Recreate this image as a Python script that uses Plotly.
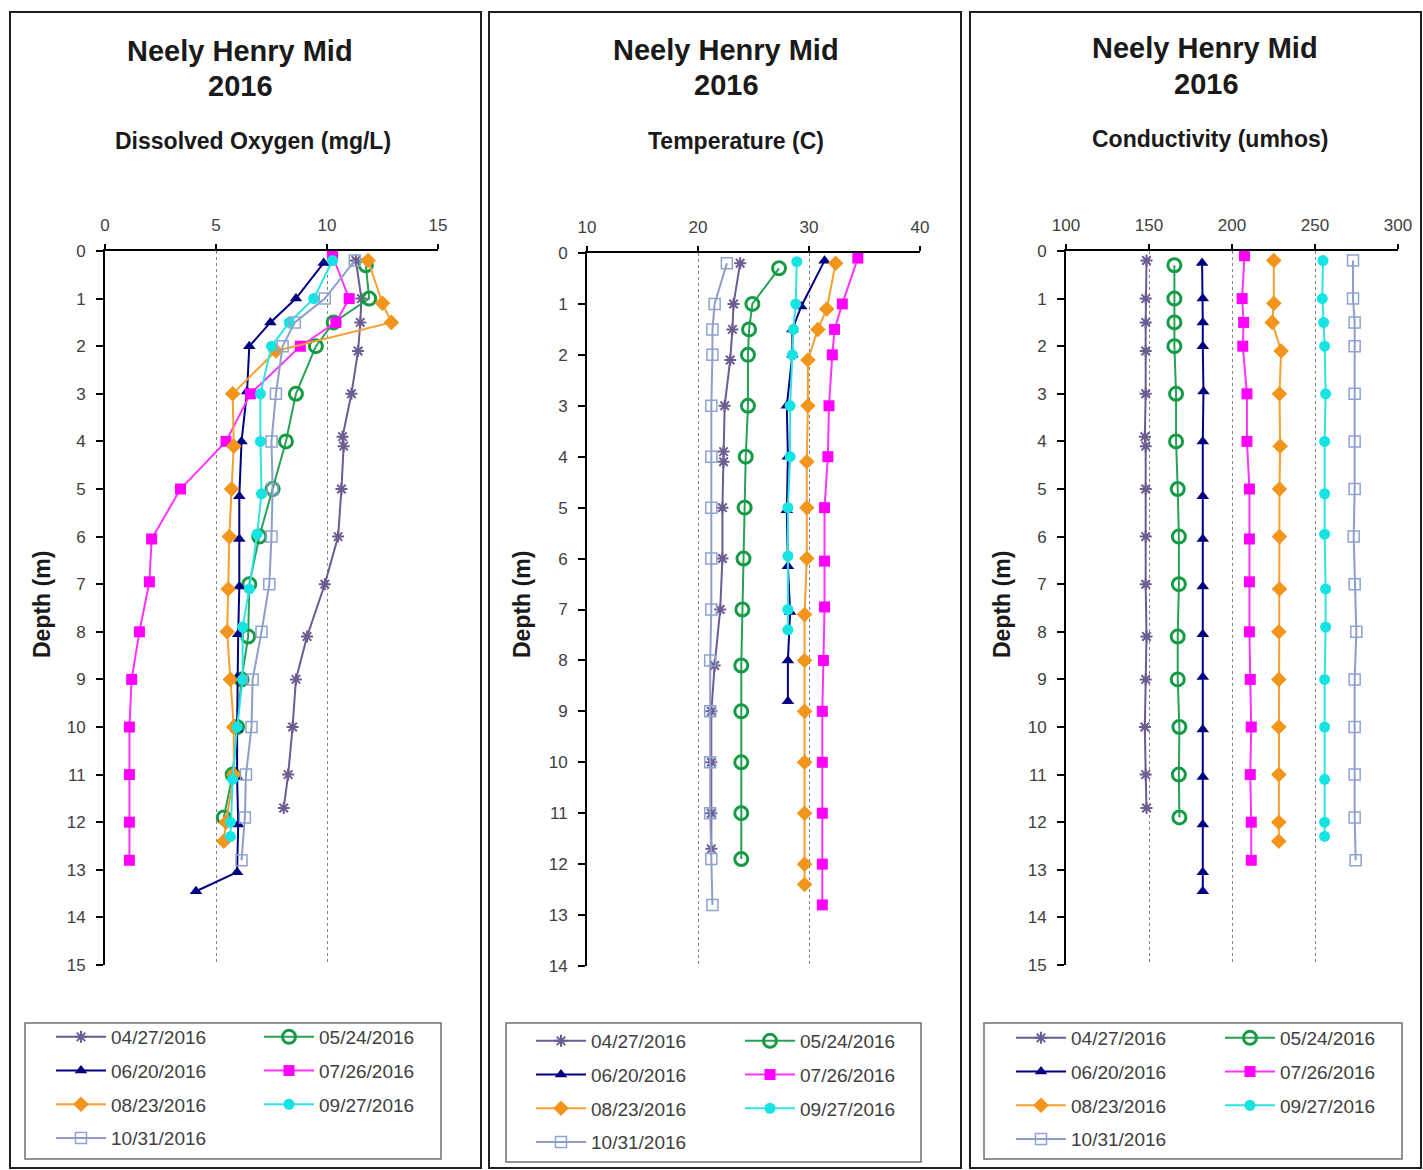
import plotly.graph_objects as go

W, H = 1423, 1170

# ---------------- data ----------------
dates = ["04/27/2016", "05/24/2016", "06/20/2016", "07/26/2016",
         "08/23/2016", "09/27/2016", "10/31/2016"]

depth_0427 = [0.2, 1.0, 1.5, 2.1, 3.0, 3.9, 4.1, 5.0, 6.0, 7.0, 8.1, 9.0, 10.0, 11.0, 11.7]
depth_0524 = [0.3, 1.0, 1.5, 2.0, 3.0, 4.0, 5.0, 6.0, 7.0, 8.1, 9.0, 10.0, 11.0, 11.9]
depth_0620 = [0.25, 1.0, 1.5, 2.0, 2.95, 4.0, 5.15, 6.05, 7.05, 8.05, 8.95, 10.05, 11.05, 12.05, 13.05, 13.45]
depth_0620_temp = [0.15, 1.05, 1.5, 2.0, 3.0, 4.0, 5.05, 6.15, 7.05, 8.0, 8.8]
depth_0726 = [0.1, 1.0, 1.5, 2.0, 3.0, 4.0, 5.0, 6.05, 6.95, 8.0, 9.0, 10.0, 11.0, 12.0, 12.8]
depth_0823 = [0.2, 1.1, 1.5, 2.1, 3.0, 4.1, 5.0, 6.0, 7.1, 8.0, 9.0, 10.0, 11.0, 12.0, 12.4]
depth_0927 = [0.2, 1.0, 1.5, 2.0, 3.0, 4.0, 5.1, 5.95, 7.1, 7.9, 9.0, 10.0, 11.1, 12.0, 12.3]
depth_0927_temp = [0.17, 1.0, 1.5, 2.0, 3.0, 4.0, 5.0, 5.95, 7.0, 7.4]
depth_1031 = [0.2, 1.0, 1.5, 2.0, 3.0, 4.0, 5.0, 6.0, 7.0, 8.0, 9.0, 10.0, 11.0, 11.9, 12.8]

# Dissolved oxygen (mg/L)
do_0427 = [11.3, 11.55, 11.5, 11.4, 11.1, 10.7, 10.75, 10.65, 10.5, 9.9, 9.1, 8.6, 8.45, 8.25, 8.05]
do_0524 = [11.75, 11.9, 10.3, 9.5, 8.6, 8.15, 7.55, 6.95, 6.5, 6.45, 6.15, 5.95, 5.75, 5.35]
do_0620 = [9.85, 8.6, 7.45, 6.5, 6.4, 6.15, 6.05, 6.05, 6.05, 6.0, 5.97, 5.95, 5.95, 6.0, 5.95, 4.1]
do_0726 = [10.25, 11.0, 10.4, 8.8, 6.55, 5.45, 3.4, 2.1, 2.0, 1.55, 1.2, 1.1, 1.1, 1.1, 1.1]
do_0823 = [11.85, 12.5, 12.9, 7.7, 5.75, 5.8, 5.7, 5.6, 5.55, 5.5, 5.65, 5.8, 5.8, 5.45, 5.35]
do_0927 = [10.25, 9.4, 8.3, 7.5, 7.0, 7.0, 7.05, 6.85, 6.5, 6.2, 6.2, 5.95, 5.75, 5.65, 5.65]
do_1031 = [11.25, 9.9, 8.55, 8.0, 7.7, 7.5, 7.55, 7.5, 7.4, 7.05, 6.65, 6.6, 6.35, 6.3, 6.15]

# Temperature (C)
temp_0427 = [23.8, 23.2, 23.1, 22.9, 22.4, 22.3, 22.3, 22.2, 22.2, 22.0, 21.5, 21.2, 21.2, 21.2, 21.2]
temp_0524 = [27.3, 24.9, 24.6, 24.5, 24.5, 24.3, 24.2, 24.1, 24.0, 23.9, 23.9, 23.9, 23.9, 23.9]
temp_0620 = [31.4, 29.3, 28.5, 28.5, 28.0, 28.1, 28.0, 28.1, 28.3, 28.1, 28.1]
temp_0726 = [34.4, 33.0, 32.3, 32.1, 31.8, 31.7, 31.4, 31.4, 31.4, 31.3, 31.2, 31.2, 31.2, 31.2, 31.2]
temp_0823 = [32.4, 31.6, 30.8, 29.9, 29.9, 29.8, 29.8, 29.8, 29.6, 29.6, 29.6, 29.6, 29.6, 29.6, 29.6]
temp_0927 = [28.9, 28.8, 28.6, 28.5, 28.3, 28.3, 28.1, 28.1, 28.1, 28.1]
temp_1031 = [22.6, 21.5, 21.3, 21.3, 21.2, 21.2, 21.2, 21.2, 21.2, 21.1, 21.1, 21.1, 21.1, 21.2, 21.3]

# Conductivity (umhos)
cond_0427 = [148.5, 148, 148, 148, 148, 147.5, 148, 148, 148, 148, 148.5, 148, 147.5, 148, 148.5]
cond_0524 = [165.3, 165.3, 165.3, 165.3, 166.3, 166.3, 167.3, 168, 168, 167.3, 167.3, 168.3, 168, 168.3]
cond_0620 = [182, 182.4, 182.4, 182.4, 182.8, 182.4, 182.4, 182.4, 182.4, 182.4, 182.4, 182.4, 182.4, 182.4, 182.4, 182.4]
cond_0726 = [207.5, 206.1, 207, 206.5, 209, 209, 210.5, 210.5, 210.5, 210.5, 211, 211.6, 211, 211.6, 211.6]
cond_0823 = [225.2, 225.2, 224.2, 229.6, 228.6, 229, 228.6, 228.6, 228.6, 228.2, 228.2, 228.2, 228.2, 228.2, 228.2]
cond_0927 = [254.8, 254.4, 255.2, 255.8, 256.4, 255.8, 255.8, 255.8, 256.4, 256.4, 255.8, 255.8, 255.8, 255.8, 255.8]
cond_1031 = [272.9, 272.9, 273.9, 273.9, 273.9, 273.9, 273.9, 273.3, 273.9, 274.9, 273.9, 273.9, 273.9, 273.9, 274.5]

panel_titles = ["Dissolved Oxygen (mg/L)", "Temperature (C)", "Conductivity (umhos)"]
x_ticks = [[0, 5, 10, 15], [10, 20, 30, 40], [100, 150, 200, 250, 300]]
x_ranges = [[0, 15], [10, 40], [100, 300]]
depth_max = [15, 14, 15]

panel_data = [
    [(depth_0427, do_0427), (depth_0524, do_0524), (depth_0620, do_0620), (depth_0726, do_0726),
     (depth_0823, do_0823), (depth_0927, do_0927), (depth_1031, do_1031)],
    [(depth_0427, temp_0427), (depth_0524, temp_0524), (depth_0620_temp, temp_0620), (depth_0726, temp_0726),
     (depth_0823, temp_0823), (depth_0927_temp, temp_0927), (depth_1031, temp_1031)],
    [(depth_0427, cond_0427), (depth_0524, cond_0524), (depth_0620, cond_0620), (depth_0726, cond_0726),
     (depth_0823, cond_0823), (depth_0927, cond_0927), (depth_1031, cond_1031)],
]

# ---------------- styles ----------------
styles = {
    "04/27/2016": dict(line="#6c5c92", mcolor="#6c5c92", symbol="asterisk-open", size=10, mlw=2),
    "05/24/2016": dict(line="#26a257", mcolor="#169a45", symbol="circle-open", size=13, mlw=3),
    "06/20/2016": dict(line="#000080", mcolor="#000080", symbol="triangle-up", size=11, mlw=0),
    "07/26/2016": dict(line="#ff33ff", mcolor="#ff00ff", symbol="square", size=11, mlw=0),
    "08/23/2016": dict(line="#f7a030", mcolor="#f3951b", symbol="diamond", size=12, mlw=0),
    "09/27/2016": dict(line="#2ee3e3", mcolor="#17e3e3", symbol="circle", size=11, mlw=0),
    "10/31/2016": dict(line="#8d9ec9", mcolor="#8fa3cf", symbol="square-open", size=11, mlw=1.5),
}
col1 = ["04/27/2016", "06/20/2016", "08/23/2016", "10/31/2016"]

def px(v):
    return v / W

def py(v):
    return 1 - v / H

x_domains = [[105, 438], [587, 920], [1066, 1398]]
y_domains = [[251, 965], [253, 966], [251, 965]]

fig = go.Figure()

for p in range(3):
    ax = "" if p == 0 else str(p + 1)
    for k, d in enumerate(dates):
        depths, vals = panel_data[p][k]
        s = styles[d]
        leg_idx = 2 * p + (1 if d in col1 else 2)
        leg = "legend" if leg_idx == 1 else "legend%d" % leg_idx
        fig.add_trace(go.Scatter(
            x=vals, y=depths, name=d, mode="lines+markers",
            xaxis="x" + ax, yaxis="y" + ax,
            legend=leg, legendgroup="p%d_%d" % (p, k),
            line=dict(color=s["line"], width=2),
            marker=dict(color=s["mcolor"], symbol=s["symbol"], size=s["size"],
                        line=dict(color=s["mcolor"], width=s["mlw"])),
            cliponaxis=False,
        ))

layout = dict(
    width=W, height=H, margin=dict(l=0, r=0, t=0, b=0, pad=0, autoexpand=False),
    paper_bgcolor="white", plot_bgcolor="white",
    font=dict(family="Liberation Sans, Arial, sans-serif", color="#404040"),
    showlegend=True,
)

for p in range(3):
    ax = "" if p == 0 else str(p + 1)
    xd = x_domains[p]
    yd = y_domains[p]
    layout["xaxis" + ax] = dict(
        domain=[px(xd[0]), px(xd[1])], anchor="y" + ax, side="top",
        range=x_ranges[p], tickvals=x_ticks[p], ticks="outside", ticklen=5,
        tickcolor="black", tickwidth=1.5, showline=True, linecolor="black", linewidth=2,
        showgrid=True, gridcolor="#808080", griddash="dot", gridwidth=1,
        zeroline=False, tickfont=dict(size=17, color="#404040"),
        ticklabelstandoff=6, fixedrange=True, automargin=False,
    )
    layout["yaxis" + ax] = dict(
        domain=[py(yd[1]), py(yd[0])], anchor="x" + ax,
        range=[depth_max[p], 0], dtick=1, ticks="outside", ticklen=7, tickwidth=2,
        tickcolor="black", showline=True, linecolor="black", linewidth=2,
        showgrid=False, zeroline=False, tickfont=dict(size=17, color="#404040"),
        ticklabelstandoff=7, fixedrange=True, automargin=False,
    )

# legends
legend_rows = [1033, 1037, 1034]
legend_cols = [[59, 267], [539, 748], [1019, 1228]]
for p in range(3):
    for c in range(2):
        idx = 2 * p + c + 1
        key = "legend" if idx == 1 else "legend%d" % idx
        layout[key] = dict(
            x=px(legend_cols[p][c] - 8), y=py(legend_rows[p] - 15),
            xanchor="left", yanchor="top",
            bgcolor="rgba(0,0,0,0)", borderwidth=0,
            font=dict(size=19, color="#404040", family="Liberation Sans, Arial, sans-serif"),
            tracegroupgap=6, itemwidth=50, traceorder="grouped",
        )

# panel borders and legend boxes
shapes = []
panel_boxes = [[10, 12, 481, 1168], [489, 12, 961, 1168], [970, 12, 1421, 1168]]
for b in panel_boxes:
    shapes.append(dict(type="rect", xref="paper", yref="paper",
                       x0=px(b[0]), x1=px(b[2]), y0=py(b[3]), y1=py(b[1]),
                       line=dict(color="#202020", width=2)))
legend_boxes = [[25, 1023, 441, 1159], [506, 1023, 921, 1162], [984, 1023, 1402, 1159]]
for b in legend_boxes:
    shapes.append(dict(type="rect", xref="paper", yref="paper",
                       x0=px(b[0]), x1=px(b[2]), y0=py(b[3]), y1=py(b[1]),
                       line=dict(color="#707070", width=1.5)))
layout["shapes"] = shapes

# titles
annotations = []
title_x = [[240, 240, 253], [726, 726, 736], [1205, 1206, 1210]]
title_y = [[51, 86, 141], [50, 85, 141], [48, 84, 139]]
depth_title_x = [42, 522, 1002]
for p in range(3):
    for text, xx, yy, sz in [("<b>Neely Henry Mid</b>", title_x[p][0], title_y[p][0], 29),
                             ("<b>2016</b>", title_x[p][1], title_y[p][1], 29),
                             ("<b>%s</b>" % panel_titles[p], title_x[p][2], title_y[p][2], 23)]:
        annotations.append(dict(text=text, x=px(xx), y=py(yy), xref="paper", yref="paper",
                                xanchor="center", yanchor="middle", showarrow=False,
                                font=dict(size=sz, color="#1a1a1a")))
    annotations.append(dict(text="<b>Depth (m)</b>", x=px(depth_title_x[p]), y=py(605),
                            xref="paper", yref="paper", xanchor="center", yanchor="middle",
                            showarrow=False, textangle=-90,
                            font=dict(size=23, color="#1a1a1a")))
layout["annotations"] = annotations

fig.update_layout(**layout)
fig.write_html("out.html")
